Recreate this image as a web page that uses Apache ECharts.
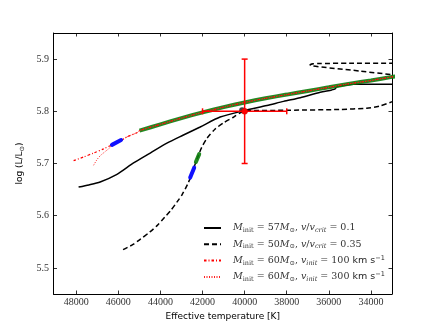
<!DOCTYPE html>
<html><head><meta charset="utf-8">
<script src="https://cdn.jsdelivr.net/npm/echarts@6/dist/echarts.min.js"></script>
<style>html,body{margin:0;padding:0;background:#fff}#c{width:436px;height:327px}</style>
</head><body><div id="c"></div>
<script>
// Tick labels
const xTicks = [48000, 46000, 44000, 42000, 40000, 38000, 36000, 34000];
const yTicks = [5.5, 5.6, 5.7, 5.8, 5.9];

// M_init = 57 Msun, v/v_crit = 0.1 (solid)
const solidT = [47888, 47400, 46864, 46065, 45278, 44485, 43693, 42905, 42112, 41163, 40047, 38940, 38149, 37358, 36410, 35861, 35700, 35624, 35200, 34838, 34000, 33000, 32900];
const solidL = [5.655, 5.659, 5.6645, 5.679, 5.701, 5.720, 5.739, 5.7546, 5.770, 5.789, 5.801, 5.811, 5.819, 5.826, 5.8365, 5.841, 5.843, 5.847, 5.850, 5.852, 5.852, 5.852, 5.852];

// M_init = 50 Msun, v/v_crit = 0.35 (dashed)
const dashT = [45775, 45300, 44953, 44500, 44161, 43800, 43528, 43200, 42975, 42715, 42500, 42350, 42200, 42050, 41794, 41400, 41000, 40522, 40127, 39889, 37922, 35500, 34200, 33600, 33014, 32500, 32500, 33014, 34500, 36891, 36750, 36500, 35000, 33000, 32500];
const dashL = [5.535, 5.545, 5.555, 5.569, 5.581, 5.597, 5.609, 5.627, 5.640, 5.660, 5.680, 5.699, 5.715, 5.730, 5.748, 5.766, 5.778, 5.789, 5.799, 5.801, 5.802, 5.8035, 5.806, 5.810, 5.818, 5.826, 5.866, 5.870, 5.877, 5.889, 5.891, 5.8915, 5.892, 5.892, 5.892];

// M_init = 60 Msun, v_init = 100 km/s (dash-dot red)
const r100T = [48125, 47650, 47176, 46701, 46303, 45828, 45591, 45116, 44993, 44000, 43000, 42000, 41000, 40000, 39000, 38000, 37000, 36000, 35000, 34000, 33000, 32800];
const r100L = [5.7055, 5.7125, 5.720, 5.728, 5.7357, 5.745, 5.751, 5.759, 5.763, 5.775, 5.787, 5.798, 5.808, 5.817, 5.825, 5.832, 5.839, 5.846, 5.853, 5.859, 5.866, 5.867];

// M_init = 60 Msun, v_init = 300 km/s (dotted red)
const r300T = [47176, 47015, 46858, 46620, 46383, 46303, 45828, 45591, 45116, 44993, 44000, 43000, 42000, 41000, 40000, 39000, 38000, 37000, 36000, 35000, 34000, 33000, 32800];
const r300L = [5.6966, 5.7074, 5.715, 5.723, 5.731, 5.7357, 5.745, 5.751, 5.759, 5.763, 5.775, 5.787, 5.798, 5.808, 5.817, 5.825, 5.832, 5.839, 5.846, 5.853, 5.859, 5.866, 5.867];

// Green highlighted phases
const greenAT = [44993, 44000, 43000, 42000, 41000, 40000, 39000, 38000, 37000, 36000, 35000, 34000, 33000, 32800];
const greenAL = [5.763, 5.775, 5.787, 5.798, 5.808, 5.817, 5.825, 5.832, 5.839, 5.846, 5.853, 5.859, 5.866, 5.867];
const greenBT = [42316, 42159];
const greenBL = [5.703, 5.718];

// Blue highlighted phases
const blueAT = [46303, 45870];
const blueAL = [5.7357, 5.745];
const blueBT = [42587, 42397];
const blueBL = [5.673, 5.692];

// Observed star with error bars
const obsT = [40000];
const obsL = [5.80];
const obsTErr = [2000];
const obsLErr = [0.10];
// Model marker
const modT = [40119];
const modL = [5.802];

const zip = (a, b) => a.map((v, i) => [v, b[i]]);

const serif = "'Liberation Serif', 'DejaVu Serif', serif";
const lserif = "'DejaVu Serif', serif";
const sans = "'DejaVu Sans', sans-serif";

const names = ['m57', 'm50', 'v100', 'v300'];
const legendText = {
  m57: '{sp|}{i|M}{s|init}{t| = 57}{i|M}{s|⊙}{t|, }{i|v}{t|/}{i|v}{si|crit}{t| = 0.1}',
  m50: '{sp|}{i|M}{s|init}{t| = 50}{i|M}{s|⊙}{t|, }{i|v}{t|/}{i|v}{si|crit}{t| = 0.35}',
  v100: '{sp|}{i|M}{s|init}{t| = 60}{i|M}{s|⊙}{t|, }{i|v}{si|init}{t| = 100}{k| km s}{sup|−1}',
  v300: '{sp|}{i|M}{s|init}{t| = 60}{i|M}{s|⊙}{t|, }{i|v}{si|init}{t| = 300}{k| km s}{sup|−1}'
};

const tickStyle = {show: true, inside: true, length: 3.5, lineStyle: {color: '#000', width: 0.8}};
const lineAx = {show: true, onZero: false, lineStyle: {color: '#000', width: 1}};

const chart = echarts.init(document.getElementById('c'), null, {renderer: 'canvas'});
chart.setOption({
  animation: false,
  backgroundColor: '#fff',
  grid: {left: 53.5, right: 44, top: 33, bottom: 33, containLabel: false, outerBoundsMode: 'none'},
  legend: {
    data: names,
    orient: 'vertical',
    left: 203, top: 222,
    padding: 0,
    itemWidth: 17, itemHeight: 12, itemGap: 4.3,
    selectedMode: false,
    itemStyle: {color: 'rgba(0,0,0,0)', borderColor: 'rgba(0,0,0,0)', borderWidth: 0, opacity: 0},
    formatter: n => legendText[n],
    textStyle: {
      color: '#222',
      rich: {
        sp: {width: 7},
        t: {fontFamily: lserif, fontSize: 9.5, color: '#333', lineHeight: 12},
        i: {fontFamily: lserif, fontStyle: 'italic', fontSize: 9.5, color: '#333', lineHeight: 12},
        s: {fontFamily: lserif, fontSize: 6.5, color: '#333', verticalAlign: 'bottom', lineHeight: 7},
        si: {fontFamily: lserif, fontStyle: 'italic', fontSize: 6.5, color: '#333', verticalAlign: 'bottom', lineHeight: 7},
        k: {fontFamily: sans, fontSize: 9.5, color: '#222', lineHeight: 12},
        sup: {fontFamily: sans, fontSize: 6.5, color: '#222', verticalAlign: 'top', lineHeight: 7}
      }
    }
  },
  xAxis: [{
    type: 'value', inverse: true, min: 33000, max: 49080,
    name: 'Effective temperature [K]', nameLocation: 'middle', nameGap: 15,
    nameTextStyle: {fontFamily: sans, fontSize: 9, color: '#000'},
    axisLine: lineAx, splitLine: {show: false},
    axisTick: Object.assign({customValues: xTicks}, tickStyle),
    axisLabel: {customValues: xTicks, formatter: v => String(v), fontFamily: serif, fontSize: 10, color: '#333', margin: 3.5}
  }, {
    type: 'value', inverse: true, min: 33000, max: 49080, position: 'top',
    axisLine: lineAx, splitLine: {show: false},
    axisTick: Object.assign({customValues: xTicks}, tickStyle),
    axisLabel: {show: false}
  }],
  yAxis: [{
    type: 'value', min: 5.45, max: 5.95,
    name: '{a|log (L/L}{b|⊙}{a|)}', nameLocation: 'middle', nameGap: 21, nameRotate: 90,
    nameTextStyle: {rich: {
      a: {fontFamily: sans, fontSize: 9, color: '#000', lineHeight: 11},
      b: {fontFamily: sans, fontSize: 6.5, color: '#000', verticalAlign: 'bottom', lineHeight: 8}
    }},
    axisLine: lineAx, splitLine: {show: false},
    axisTick: Object.assign({customValues: yTicks}, tickStyle),
    axisLabel: {customValues: yTicks, formatter: v => v.toFixed(1), fontFamily: serif, fontSize: 10, color: '#333', margin: 4.5}
  }, {
    type: 'value', min: 5.45, max: 5.95, position: 'right',
    axisLine: lineAx, splitLine: {show: false},
    axisTick: Object.assign({customValues: yTicks}, tickStyle),
    axisLabel: {show: false}
  }],
  series: [
    {name: 'm57', type: 'line', data: zip(solidT, solidL), symbol: 'none', smooth: 0.25, z: 2,
     lineStyle: {color: '#000', width: 1.5}, itemStyle: {color: '#000'}},
    {name: 'm50', type: 'line', data: zip(dashT, dashL), symbol: 'none', smooth: 0.25, z: 2,
     lineStyle: {color: '#000', width: 1.5, type: [5, 3]}, itemStyle: {color: '#000'}},
    {name: 'greenA', type: 'line', data: zip(greenAT, greenAL), symbol: 'none', smooth: 0.25, z: 3,
     lineStyle: {color: '#0b7d0b', width: 4, opacity: 0.9}},
    {name: 'greenB', type: 'line', data: zip(greenBT, greenBL), symbol: 'none', z: 3,
     lineStyle: {color: '#0b7d0b', width: 4, opacity: 0.9, cap: 'round'}},
    {name: 'v100', type: 'line', data: zip(r100T, r100L), symbol: 'none', smooth: 0.25, z: 4,
     lineStyle: {color: '#ff0000', width: 1.2, type: [2.5, 2, 1, 2]}, itemStyle: {color: '#ff0000'}},
    {name: 'v300', type: 'line', data: zip(r300T, r300L), symbol: 'none', smooth: 0.25, z: 4,
     lineStyle: {color: '#ff2020', width: 1, type: [1, 1.5]}, itemStyle: {color: '#ff2020'}},
    {name: 'blueA', type: 'line', data: zip(blueAT, blueAL), symbol: 'none', z: 5,
     lineStyle: {color: '#1010ff', width: 4, cap: 'round'}},
    {name: 'blueB', type: 'line', data: zip(blueBT, blueBL), symbol: 'none', z: 5,
     lineStyle: {color: '#1010ff', width: 4, cap: 'round'}},
    {name: 'model', type: 'scatter', data: zip(modT, modL), symbol: 'circle', symbolSize: 6, z: 6,
     itemStyle: {color: '#111'}},
    {name: 'obs', type: 'custom', z: 7,
     data: obsT.map((t, i) => [t, obsL[i], obsTErr[i], obsLErr[i]]),
     encode: {x: 0, y: 1},
     renderItem: function (params, api) {
       const T = api.value(0), L = api.value(1), dT = api.value(2), dL = api.value(3);
       const c = api.coord([T, L]);
       const top = api.coord([T, L + dL]), bot = api.coord([T, L - dL]);
       const lft = api.coord([T + dT, L]), rgt = api.coord([T - dT, L]);
       const cap = 3;
       const st = {stroke: '#ff0000', lineWidth: 1.5, fill: null};
       const ln = (x1, y1, x2, y2) => ({type: 'line', shape: {x1, y1, x2, y2}, style: st});
       return {type: 'group', children: [
         ln(top[0], top[1], bot[0], bot[1]),
         ln(lft[0], lft[1], rgt[0], rgt[1]),
         ln(top[0] - cap, top[1], top[0] + cap, top[1]),
         ln(bot[0] - cap, bot[1], bot[0] + cap, bot[1]),
         ln(lft[0], lft[1] - cap, lft[0], lft[1] + cap),
         ln(rgt[0], rgt[1] - cap, rgt[0], rgt[1] + cap),
         {type: 'circle', shape: {cx: c[0], cy: c[1], r: 3}, style: {fill: '#ff0000', stroke: '#cc0000', lineWidth: 0.5}}
       ]};
     }}
  ]
});
</script>
</body></html>
